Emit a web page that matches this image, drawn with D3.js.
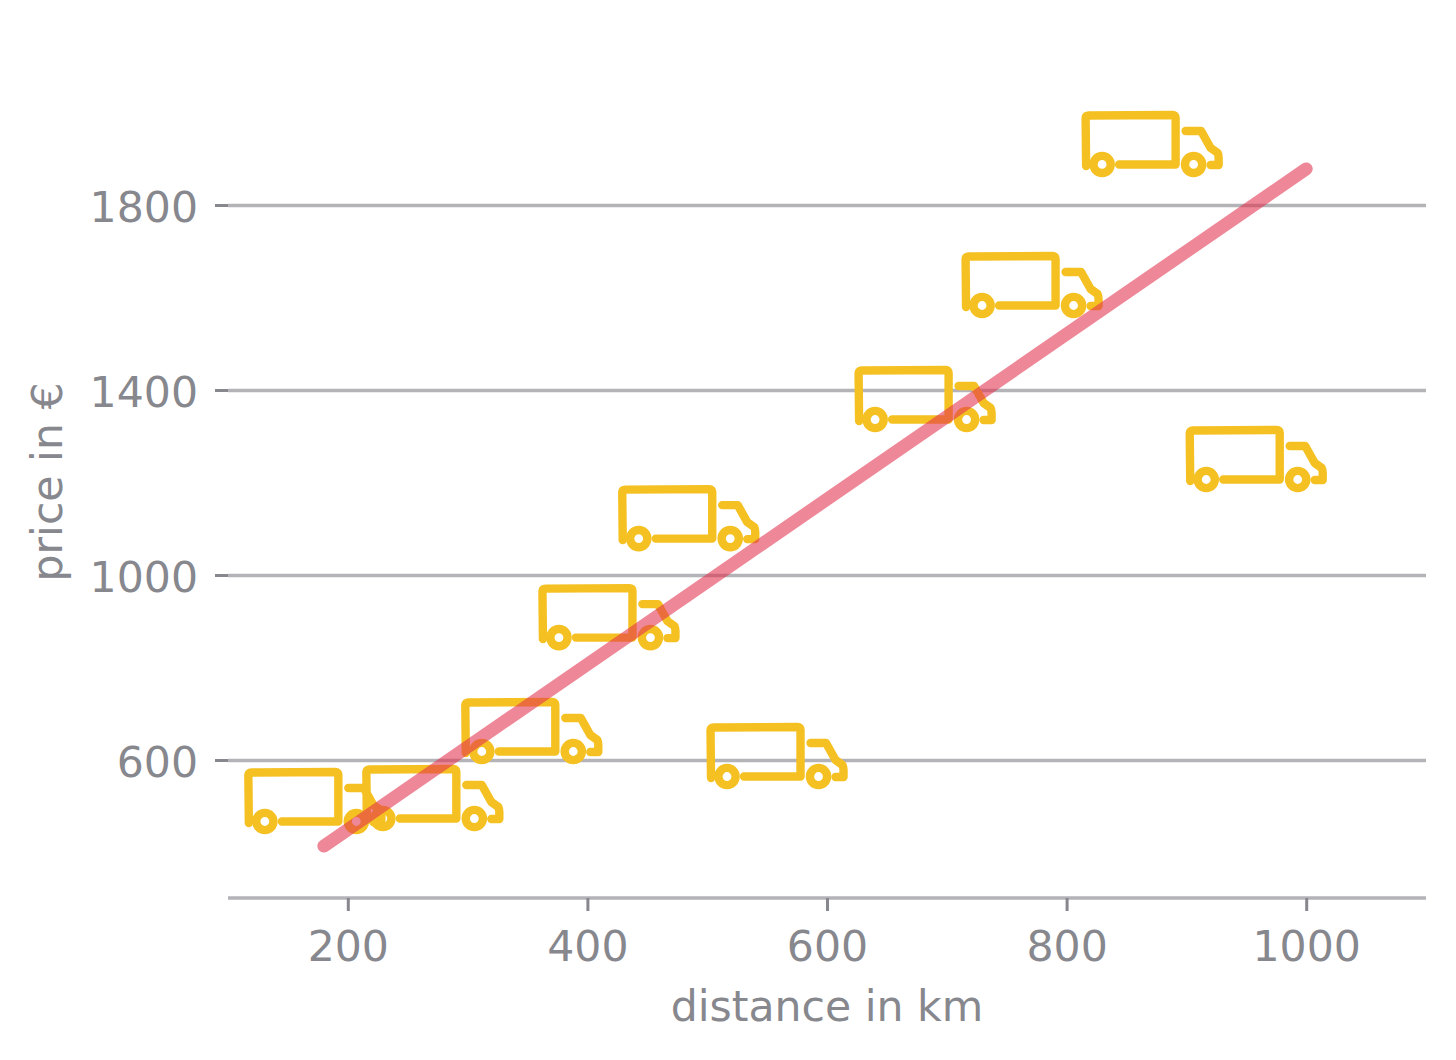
<!DOCTYPE html>
<html><head><meta charset="utf-8">
<script src="https://cdnjs.cloudflare.com/ajax/libs/d3/7.8.5/d3.min.js"></script>
<style>html,body{margin:0;padding:0;background:#fff}svg{display:block}text{font-family:"DejaVu Sans",sans-serif;fill:#87878e}</style>
</head><body><svg id="c" width="1456" height="1060"></svg>
<script>
const distanceKm=[172.9,271.4,354,418.4,485,558.7,682.3,771.6,871.8,958.7];
const priceEur=[511.4,517.8,662.7,909,1123,608.6,1380.5,1627,1932,1250.8];
const trendX=[180,1000];
const trendY=[414,1878];
const xTicks=[200,400,600,800,1000];
const yTicks=[600,1000,1400,1800];

const svg=d3.select("#c");
const x=d3.scaleLinear().domain([100,1100]).range([228,1426]);
const y=d3.scaleLinear().domain([600,1800]).range([760,205]);
const axisColor="#b3b3b8", tickColor="#87878e", fs=42.6;

// y axis
const yAxis=svg.append("g").attr("transform","translate(228,0)")
  .call(d3.axisLeft(y).tickValues(yTicks).tickSize(13).tickPadding(17).tickFormat(d3.format("d")));
yAxis.select(".domain").remove();
yAxis.selectAll(".tick line").attr("stroke",tickColor).attr("stroke-width",3);
yAxis.selectAll(".tick text").attr("font-size",fs).attr("fill",tickColor).attr("dy","0.39em");
yAxis.selectAll(".tick").append("line").attr("class","grid").attr("x1",0).attr("x2",1198)
  .attr("stroke",axisColor).attr("stroke-width",3.5);

// x axis
const xAxis=svg.append("g").attr("transform","translate(0,898)")
  .call(d3.axisBottom(x).tickValues(xTicks).tickSize(13).tickPadding(20).tickFormat(d3.format("d")));
xAxis.select(".domain").attr("stroke",axisColor).attr("stroke-width",3.5).attr("d","M228,0H1426");
xAxis.selectAll(".tick line").attr("stroke",tickColor).attr("stroke-width",3);
xAxis.selectAll(".tick text").attr("font-size",fs).attr("fill",tickColor);

svg.append("text").attr("x",827).attr("y",1021).attr("text-anchor","middle").attr("font-size",fs).text("distance in km");
svg.append("text").attr("transform","translate(62,482) rotate(-90)").attr("text-anchor","middle").attr("font-size",fs).text("price in €");

// truck glyph, local coordinates centred on the icon
const truckColor="#f5c122";
const t=svg.append("g").selectAll("g").data(distanceKm).join("g")
  .attr("transform",(d,i)=>`translate(${x(d)},${y(priceEur[i])})`)
  .attr("fill","none").attr("stroke",truckColor).attr("stroke-width",8.4)
  .attr("stroke-linecap","round").attr("stroke-linejoin","round");
t.append("path").attr("d","M-66.5,22 L-67,-26 Q-67,-28.5 -64,-28.5 L20,-29 Q23,-29 23,-26 L23,20.5 L-33.5,20.5");
t.append("path").attr("d","M33,-13 L48.5,-13 L58,4 L65,9 Q66,11 66,14 L66,21 L58,21");
t.append("circle").attr("cx",-50.5).attr("cy",20.5).attr("r",8.6);
t.append("circle").attr("cx",41).attr("cy",20.5).attr("r",8.6);

// trend line
svg.append("line")
  .attr("x1",x(trendX[0])).attr("y1",y(trendY[0]))
  .attr("x2",x(trendX[1])).attr("y2",y(trendY[1]))
  .attr("stroke","#e2304e").attr("stroke-opacity",0.58).attr("stroke-width",13).attr("stroke-linecap","round");
</script></body></html>
